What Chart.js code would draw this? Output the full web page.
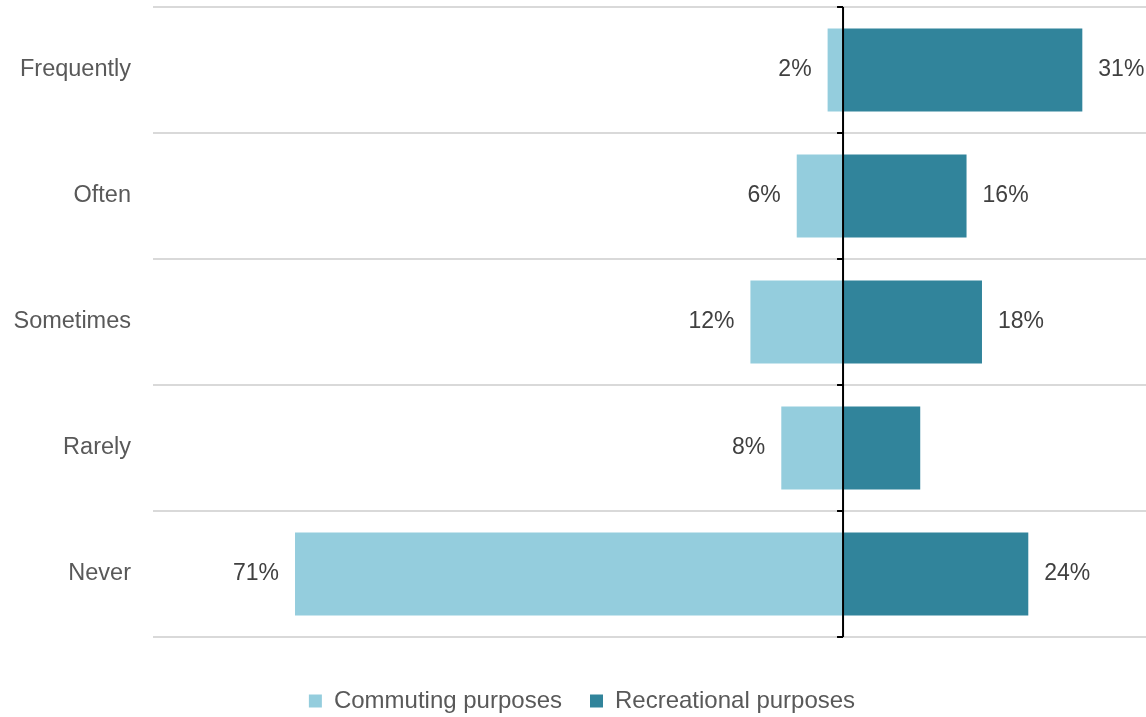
<!DOCTYPE html>
<html>
<head>
<meta charset="utf-8">
<script src="https://cdn.jsdelivr.net/npm/chart.js@4.4.1/dist/chart.umd.min.js"></script>
<style>
    html, body { margin: 0; padding: 0; background: #ffffff; }
    #wrap { width: 1146px; height: 717px; position: relative; }
</style>
</head>
<body>
<div id="wrap"><canvas id="freqChart"></canvas></div>
<script>
// ── data ──────────────────────────────────────────────
const categories = ['Frequently', 'Often', 'Sometimes', 'Rarely', 'Never'];
const commuting = [2, 6, 12, 8, 71];          // drawn to the left of zero
const recreational = [31, 16, 18, 10, 24];
const recreationalLabels = ['31%', '16%', '18%', null, '24%'];
const commutingLabels = ['2%', '6%', '12%', '8%', '71%'];

const FONT = '"Liberation Sans", Arial, sans-serif';
const TEXT_GREY = '#595959';
const LABEL_GREY = '#404040';

// value labels beside each bar end, plus the black zero axis with its ticks
const barLabels = {
    id: 'barLabels',
    afterLayout(chart) {
        // nudge the legend a little right of the canvas centre
        if (chart.legend) {
            chart.legend.left += 9;
            chart.legend.right += 9;
        }
    },
    afterDatasetsDraw(chart) {
        const { ctx, chartArea, scales } = chart;
        const x0 = scales.x.getPixelForValue(0);

        ctx.save();
        ctx.strokeStyle = '#000000';
        ctx.lineWidth = 2;
        ctx.beginPath();
        ctx.moveTo(x0, chartArea.top);
        ctx.lineTo(x0, chartArea.bottom);
        for (let i = 0; i <= categories.length; i++) {
            const y = chartArea.top + (chartArea.bottom - chartArea.top) * i / categories.length;
            ctx.moveTo(x0 - 6, y);
            ctx.lineTo(x0, y);
        }
        ctx.stroke();

        ctx.font = `23px ${FONT}`;
        ctx.fillStyle = LABEL_GREY;
        ctx.textBaseline = 'middle';
        const sets = [commutingLabels, recreationalLabels];
        chart.data.datasets.forEach((ds, di) => {
            const meta = chart.getDatasetMeta(di);
            meta.data.forEach((bar, i) => {
                const txt = sets[di][i];
                if (!txt) return;
                if (ds.data[i] < 0) {
                    ctx.textAlign = 'right';
                    ctx.fillText(txt, bar.x - 16, bar.y);
                } else {
                    ctx.textAlign = 'left';
                    ctx.fillText(txt, bar.x + 16, bar.y);
                }
            });
        });
        ctx.restore();
    }
};

new Chart(document.getElementById('freqChart').getContext('2d'), {
    type: 'bar',
    data: {
        labels: categories,
        datasets: [
            {
                label: 'Commuting purposes',
                data: commuting.map(v => -v),
                backgroundColor: '#94CDDD',
                categoryPercentage: 0.66,
                barPercentage: 1,
            },
            {
                label: 'Recreational purposes',
                data: recreational,
                backgroundColor: '#31849B',
                categoryPercentage: 0.66,
                barPercentage: 1,
            },
        ],
    },
    options: {
        indexAxis: 'y',
        responsive: true,
        maintainAspectRatio: false,
        animation: false,
        layout: { padding: { top: 7, right: 0, bottom: -6, left: 0 } },
        plugins: {
            legend: {
                position: 'bottom',
                labels: {
                    color: TEXT_GREY,
                    font: { family: FONT, size: 24 },
                    boxWidth: 13,
                    boxHeight: 13,
                    padding: 28,
                },
            },
            tooltip: { enabled: false },
        },
        scales: {
            x: {
                stacked: true,
                min: -89.4,
                max: 39.25,
                ticks: { display: false },
                grid: { display: false },
                border: { display: false },
                // blank strip between the bars and the legend
                afterFit: (s) => {
                    s.height = 24;
                    s.paddingLeft = 0;
                    s.paddingRight = 0;
                },
            },
            y: {
                stacked: true,
                afterFit: (s) => {
                    s.width = 153;
                    s.paddingTop = 0;
                    s.paddingBottom = 0;
                },
                border: { display: false },
                grid: {
                    color: '#d9d9d9',
                    lineWidth: 2,
                    drawTicks: false,
                },
                ticks: {
                    color: TEXT_GREY,
                    font: { family: FONT, size: 23.5 },
                    padding: 22,
                },
            },
        },
    },
    plugins: [barLabels],
});
</script>
</body>
</html>
